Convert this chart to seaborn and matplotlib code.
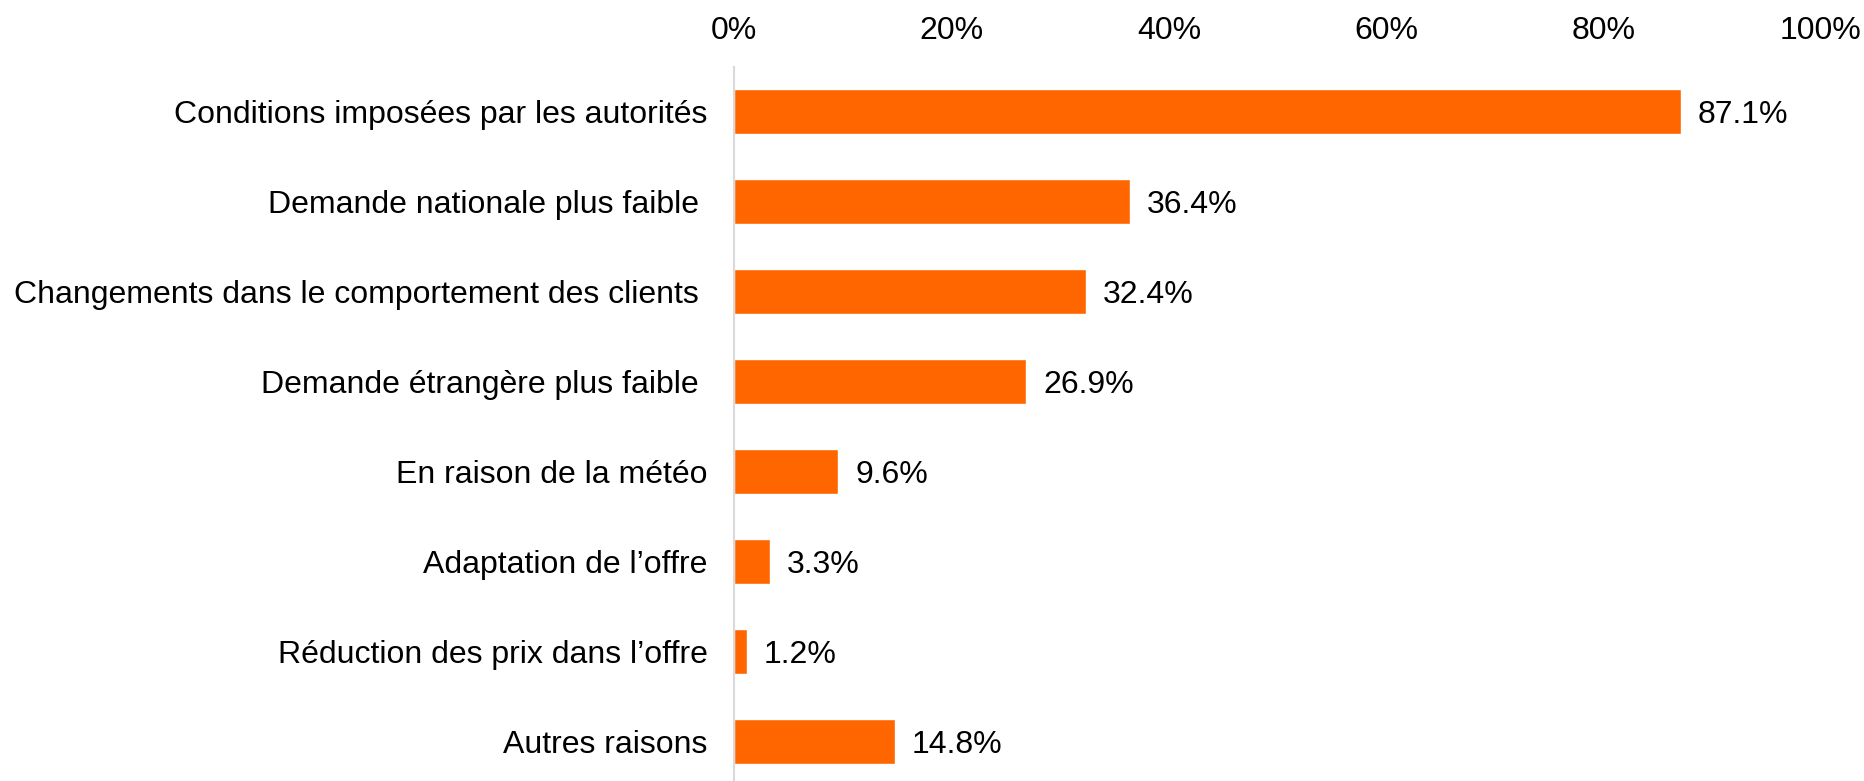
import seaborn as sns
import matplotlib.pyplot as plt


reasons = [
    'Conditions imposées par les autorités',
    'Demande nationale plus faible ',
    'Changements dans le comportement des clients ',
    'Demande étrangère plus faible ',
    'En raison de la météo',
    'Adaptation de l\u2019offre',
    'Réduction des prix dans l\u2019offre',
    'Autres raisons',
]
shares = [87.1, 36.4, 32.4, 26.9, 9.6, 3.3, 1.2, 14.8]
ticks = [0, 20, 40, 60, 80, 100]

color = '#FF6600'

sns.set_style('white')
plt.rcParams['font.family'] = ['Liberation Sans', 'DejaVu Sans']
plt.rcParams['text.color'] = 'black'
plt.rcParams['xtick.color'] = 'black'
plt.rcParams['ytick.color'] = 'black'

fig = plt.figure(figsize=(18.65, 7.81), dpi=100)
ax = fig.add_axes([0.3936, 0.0, 0.5828, 0.9142])

sns.barplot(x=shares, y=reasons, color=color, width=0.5, saturation=1, ax=ax)

value_texts = ax.bar_label(ax.containers[0], labels=['{:.1f}%'.format(v) for v in shares],
                           padding=12, fontsize=23, color='black')
for t in value_texts:
    t.set_va('center_baseline')

ax.set_xlim(0, 100)
ax.set_ylim(7.44, -0.49)
ax.set_xticks(ticks)
ax.set_xticklabels(['{}%'.format(t) for t in ticks])
ax.xaxis.tick_top()
ax.tick_params(axis='x', length=0, pad=15, labelsize=23)
ax.tick_params(axis='y', length=0, pad=19, labelsize=23)
ax.set_xlabel('')
ax.set_ylabel('')

for side in ['top', 'right', 'bottom']:
    ax.spines[side].set_visible(False)
ax.spines['left'].set_color('#D9D9D9')
ax.spines['left'].set_linewidth(1.5)

fig.savefig('out.png', dpi=100)
